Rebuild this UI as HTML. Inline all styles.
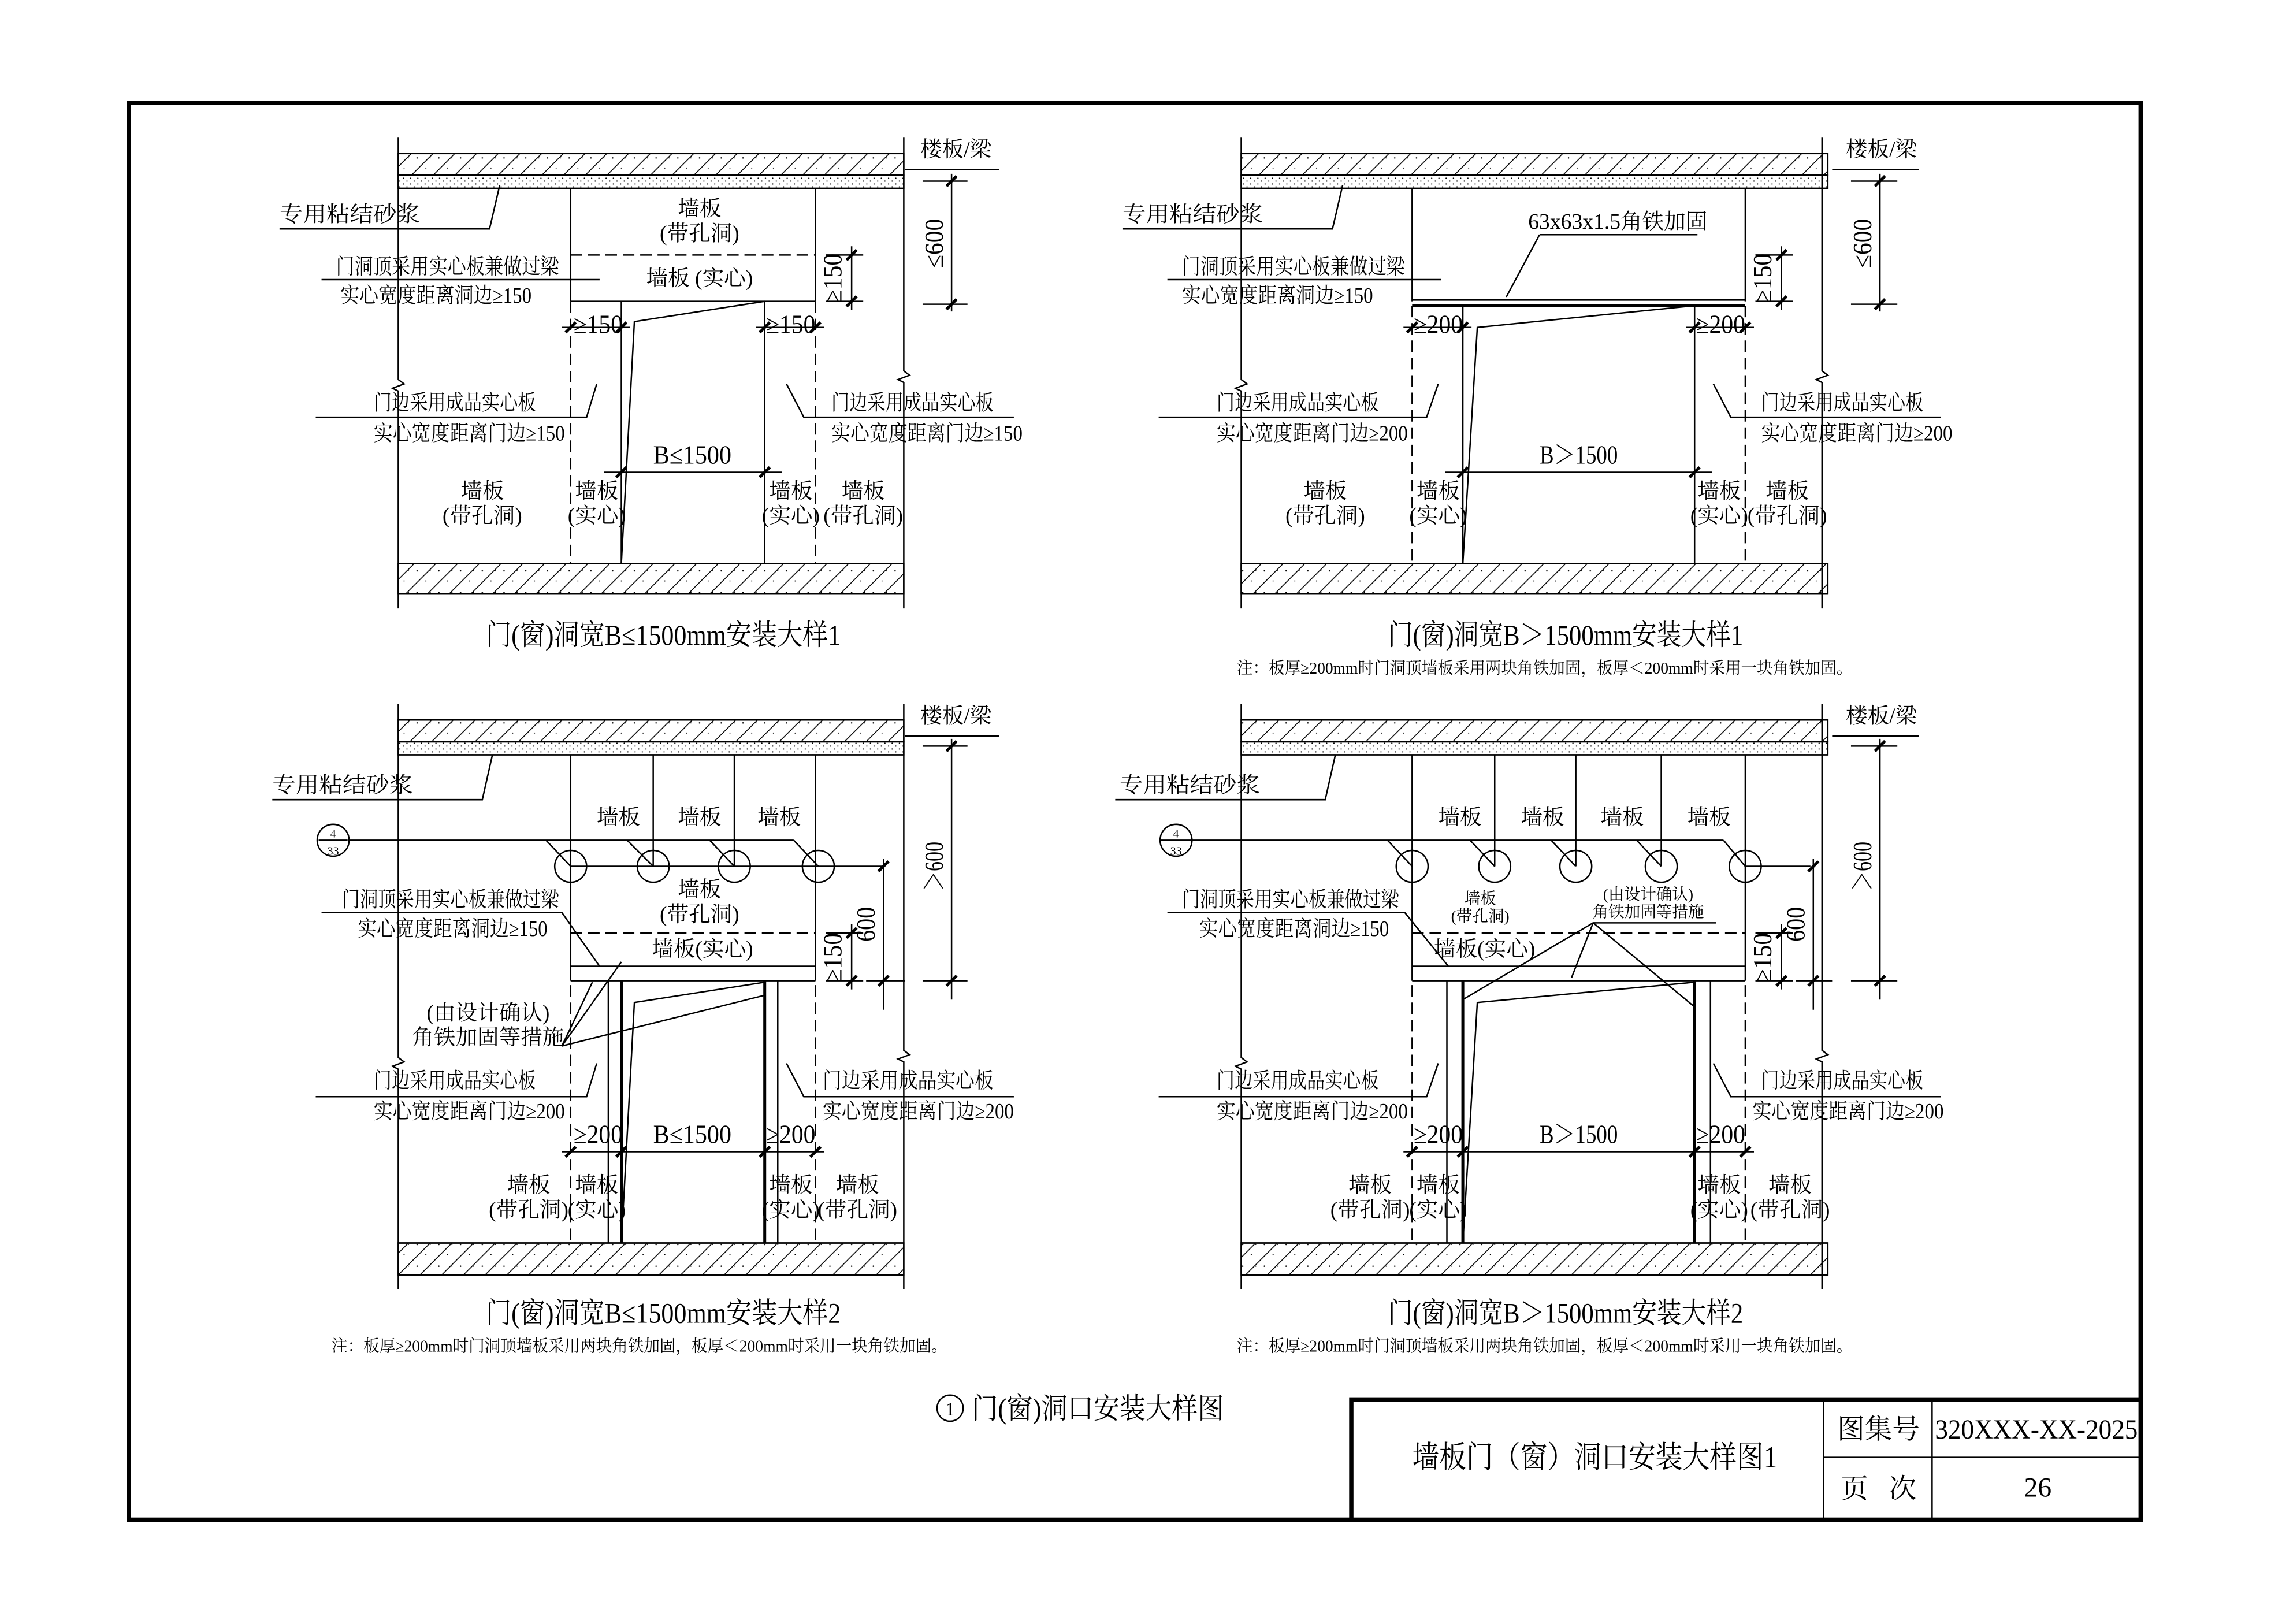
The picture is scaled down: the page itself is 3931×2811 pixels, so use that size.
<!DOCTYPE html>
<html><head><meta charset="utf-8"><style>
html,body{margin:0;padding:0;background:#fff;width:3931px;height:2811px;overflow:hidden}
svg{display:block}
text{font-family:"Liberation Serif","Noto Serif CJK SC","Noto Sans CJK SC",serif;fill:#000}
.t{font-size:15px}
.d{font-size:18px}
.s{font-size:11px}
.n{font-size:11.5px}
.h{font-size:20px}
</style></head><body>
<svg width="3931" height="2811" viewBox="0 0 1568 1121" preserveAspectRatio="none" xmlns="http://www.w3.org/2000/svg">
<defs>
<pattern id="hp" width="15" height="15" patternUnits="userSpaceOnUse">
<path d="M-3 3L3 -3M0 15L15 0M12 18L18 12" stroke="#000" stroke-width="0.6"/>
<circle cx="3" cy="4" r="0.5"/><circle cx="9" cy="11" r="0.4"/><circle cx="12" cy="4" r="0.4"/>
</pattern>
<pattern id="mp" width="5" height="4" patternUnits="userSpaceOnUse">
<circle cx="1" cy="1" r="0.45"/><circle cx="3.5" cy="3" r="0.45"/>
</pattern>
<path id="tk" d="M-3.5 3.5L3.5 -3.5" stroke="#000" stroke-width="2"/>
</defs>
<rect width="1568" height="1121" fill="#fff"/>
<g fill="none" stroke="#000" stroke-width="1">

<rect x="89" y="71" width="1389" height="978" stroke-width="3"/>
<path d="M933 1049V966H1478" stroke-width="3"/>
<path d="M1259 966V1049M1334 966V1049M1259 1006H1478"/>

<!-- TL -->
<rect x="275" y="106" width="349" height="15" fill="url(#hp)"/>
<rect x="275" y="121" width="349" height="9" fill="url(#mp)"/>
<path d="M275 106H624M275 121H624M275 130H624"/>
<rect x="275" y="389" width="349" height="21" fill="url(#hp)"/>
<path d="M275 389H624M275 410H624"/>
<path d="M275 95V262l4 3-8 3 4 2V420M624 95V256l4 3-8 3 4 2V420"/>
<path d="M394 130V208M563 130V208M394 208H563M429 208V389M528 208V389"/>
<path d="M394 208V389M563 208V389" stroke-dasharray="8,4"/>
<path d="M394 176H563" stroke-dasharray="8,4"/>
<path d="M528 208L438 222L429 389"/>
<path d="M193 158H338L345 128"/>
<path d="M222 193H414"/>
<path d="M218 288H405L412 265"/>
<path d="M700 288H555L543 265"/>
<path d="M625 117H690"/>
<path d="M588 170V214M570 176H596M570 208H596"/>
<use href="#tk" x="588" y="176"/><use href="#tk" x="588" y="208"/>
<path d="M657 120V215M637 125H668M637 210H668"/>
<use href="#tk" x="657" y="125"/><use href="#tk" x="657" y="210"/>
<path d="M388 226H435M522 226H569"/>
<use href="#tk" x="394" y="226"/><use href="#tk" x="429" y="226"/><use href="#tk" x="528" y="226"/><use href="#tk" x="563" y="226"/>
<path d="M417 326H540"/>
<use href="#tk" x="429" y="326"/><use href="#tk" x="528" y="326"/>

<!-- TR -->
<rect x="857" y="106" width="405" height="15" fill="url(#hp)"/>
<rect x="857" y="121" width="405" height="9" fill="url(#mp)"/>
<path d="M857 106H1262M857 121H1262M857 130H1262"/>
<rect x="857" y="389" width="405" height="21" fill="url(#hp)"/>
<path d="M857 389H1262M857 410H1262"/>
<path d="M857 95V262l4 3-8 3 4 2V420M1258 95V256l4 3-8 3 4 2V420"/>
<path d="M975 130V208M1205 130V208M1010 211V389M1170 211V389"/>
<path d="M975 207H1205" stroke-width="1.2"/>
<path d="M975 211H1205" stroke-width="2"/>
<path d="M975 211V389M1205 211V389" stroke-dasharray="8,4"/>
<path d="M1170 211L1020 226L1010 389"/>
<path d="M1063 162H1172M1063 162L1040 205"/>
<path d="M775 158H920L927 128"/>
<path d="M806 193H995"/>
<path d="M800 288H985L993 265"/>
<path d="M1340 288H1195L1183 265"/>
<path d="M1265 117H1325"/>
<path d="M1230 170V214M1212 176H1238M1212 208H1238"/>
<use href="#tk" x="1230" y="176"/><use href="#tk" x="1230" y="208"/>
<path d="M1298 120V215M1278 125H1310M1278 210H1310"/>
<use href="#tk" x="1298" y="125"/><use href="#tk" x="1298" y="210"/>
<path d="M969 226H1016M1164 226H1211"/>
<use href="#tk" x="975" y="226"/><use href="#tk" x="1010" y="226"/><use href="#tk" x="1170" y="226"/><use href="#tk" x="1205" y="226"/>
<path d="M998 326H1182"/>
<use href="#tk" x="1010" y="326"/><use href="#tk" x="1170" y="326"/>

<!-- BL -->
<rect x="275" y="497" width="349" height="15" fill="url(#hp)"/>
<rect x="275" y="512" width="349" height="9" fill="url(#mp)"/>
<path d="M275 497H624M275 512H624M275 521H624"/>
<rect x="275" y="858" width="349" height="22" fill="url(#hp)"/>
<path d="M275 858H624M275 880H624"/>
<path d="M275 486V730l4 3-8 3 4 2V890M624 486V725l4 3-8 3 4 2V890"/>
<path d="M394 521V677M563 521V677M451 521V598M507 521V598"/>
<path d="M394 667H563M394 677H563"/>
<path d="M394 680V858M563 680V858" stroke-dasharray="8,4"/>
<path d="M394 644H563" stroke-dasharray="8,4"/>
<path d="M420 677V858M537 677V858"/>
<path d="M429 677V858M528 677V858" stroke-width="2"/>
<path d="M528 678L438 692L429 858"/>
<circle cx="394" cy="598" r="11"/><circle cx="451" cy="598" r="11"/><circle cx="507" cy="598" r="11"/><circle cx="565" cy="598" r="11"/>
<circle cx="230" cy="580" r="11"/><path d="M220 580H240"/>
<path d="M241 580H548M377 580L394 598M433 580L451 598M490 580L507 598M548 580L565 598"/>
<path d="M394 598H610"/>
<path d="M188 552H333L340 521"/>
<path d="M222 630H388L414 667"/>
<path d="M388 722L409 678M388 722L429 664M388 722L528 687"/>
<path d="M218 757H405L412 734"/>
<path d="M700 757H555L543 734"/>
<path d="M625 508H690"/>
<path d="M588 638V683M570 644H596M570 677H596"/>
<use href="#tk" x="588" y="644"/><use href="#tk" x="588" y="677"/>
<path d="M610 593V697M598 677H625"/>
<use href="#tk" x="610" y="598"/><use href="#tk" x="610" y="677"/>
<path d="M657 510V690M637 515H668M637 677H668"/>
<use href="#tk" x="657" y="515"/><use href="#tk" x="657" y="677"/>
<path d="M388 795H569"/>
<use href="#tk" x="394" y="795"/><use href="#tk" x="429" y="795"/><use href="#tk" x="528" y="795"/><use href="#tk" x="563" y="795"/>

<!-- BR -->
<rect x="857" y="497" width="405" height="15" fill="url(#hp)"/>
<rect x="857" y="512" width="405" height="9" fill="url(#mp)"/>
<path d="M857 497H1262M857 512H1262M857 521H1262"/>
<rect x="857" y="858" width="405" height="22" fill="url(#hp)"/>
<path d="M857 858H1262M857 880H1262"/>
<path d="M857 486V730l4 3-8 3 4 2V890M1258 486V725l4 3-8 3 4 2V890"/>
<path d="M975 521V677M1205 521V677M1032 521V598M1088 521V598M1147 521V598"/>
<path d="M975 667H1205M975 677H1205"/>
<path d="M975 680V858M1205 680V858" stroke-dasharray="8,4"/>
<path d="M975 644H1205" stroke-dasharray="8,4"/>
<path d="M999 677V858M1181 677V858"/>
<path d="M1010 677V858M1170 677V858" stroke-width="2"/>
<path d="M1170 678L1020 692L1010 858"/>
<circle cx="975" cy="598" r="11"/><circle cx="1032" cy="598" r="11"/><circle cx="1088" cy="598" r="11"/><circle cx="1147" cy="598" r="11"/><circle cx="1205" cy="598" r="11"/>
<circle cx="812" cy="580" r="11"/><path d="M801 580H823"/>
<path d="M823 580H1190M958 580L975 598M1015 580L1032 598M1071 580L1088 598M1130 580L1147 598M1190 580L1205 598"/>
<path d="M1205 598H1250"/>
<path d="M770 552H915L922 521"/>
<path d="M806 630H970L1000 667"/>
<path d="M1100 637H1185M1100 637L1010 690M1100 637L1085 675M1100 637L1170 695"/>
<path d="M800 757H985L993 734"/>
<path d="M1340 757H1195L1183 734"/>
<path d="M1265 508H1325"/>
<path d="M1230 638V683M1212 644H1238M1212 677H1238"/>
<use href="#tk" x="1230" y="644"/><use href="#tk" x="1230" y="677"/>
<path d="M1252 593V697M1240 677H1265"/>
<use href="#tk" x="1252" y="598"/><use href="#tk" x="1252" y="677"/>
<path d="M1298 510V690M1278 515H1310M1278 677H1310"/>
<use href="#tk" x="1298" y="515"/><use href="#tk" x="1298" y="677"/>
<path d="M969 795H1211"/>
<use href="#tk" x="975" y="795"/><use href="#tk" x="1010" y="795"/><use href="#tk" x="1170" y="795"/><use href="#tk" x="1205" y="795"/>

<circle cx="656" cy="972" r="9"/>
</g>

<g class="t">
<!-- TL -->
<text x="193" y="153" textLength="97" lengthAdjust="spacingAndGlyphs">专用粘结砂浆</text>
<text x="483" y="149" text-anchor="middle">墙板</text>
<text x="483" y="166" text-anchor="middle">(带孔洞)</text>
<text x="483" y="197" text-anchor="middle">墙板 (实心)</text>
<text x="232" y="189" textLength="154" lengthAdjust="spacingAndGlyphs">门洞顶采用实心板兼做过梁</text>
<text x="235" y="209" textLength="132" lengthAdjust="spacingAndGlyphs">实心宽度距离洞边≥150</text>
<text x="258" y="283" textLength="112" lengthAdjust="spacingAndGlyphs">门边采用成品实心板</text>
<text x="258" y="304" textLength="132" lengthAdjust="spacingAndGlyphs">实心宽度距离门边≥150</text>
<text x="574" y="283" textLength="112" lengthAdjust="spacingAndGlyphs">门边采用成品实心板</text>
<text x="574" y="304" textLength="132" lengthAdjust="spacingAndGlyphs">实心宽度距离门边≥150</text>
<text x="333" y="344" text-anchor="middle">墙板</text><text x="333" y="361" text-anchor="middle">(带孔洞)</text>
<text x="412" y="344" text-anchor="middle">墙板</text><text x="412" y="361" text-anchor="middle">(实心)</text>
<text x="546" y="344" text-anchor="middle">墙板</text><text x="546" y="361" text-anchor="middle">(实心)</text>
<text x="596" y="344" text-anchor="middle">墙板</text><text x="596" y="361" text-anchor="middle">(带孔洞)</text>
<text x="660" y="108" text-anchor="middle">楼板/梁</text>

<!-- TR -->
<text x="775" y="153" textLength="97" lengthAdjust="spacingAndGlyphs">专用粘结砂浆</text>
<text x="1117" y="158" text-anchor="middle">63x63x1.5角铁加固</text>
<text x="816" y="189" textLength="154" lengthAdjust="spacingAndGlyphs">门洞顶采用实心板兼做过梁</text>
<text x="816" y="209" textLength="132" lengthAdjust="spacingAndGlyphs">实心宽度距离洞边≥150</text>
<text x="840" y="283" textLength="112" lengthAdjust="spacingAndGlyphs">门边采用成品实心板</text>
<text x="840" y="304" textLength="132" lengthAdjust="spacingAndGlyphs">实心宽度距离门边≥200</text>
<text x="1216" y="283" textLength="112" lengthAdjust="spacingAndGlyphs">门边采用成品实心板</text>
<text x="1216" y="304" textLength="132" lengthAdjust="spacingAndGlyphs">实心宽度距离门边≥200</text>
<text x="915" y="344" text-anchor="middle">墙板</text><text x="915" y="361" text-anchor="middle">(带孔洞)</text>
<text x="993" y="344" text-anchor="middle">墙板</text><text x="993" y="361" text-anchor="middle">(实心)</text>
<text x="1187" y="344" text-anchor="middle">墙板</text><text x="1187" y="361" text-anchor="middle">(实心)</text>
<text x="1234" y="344" text-anchor="middle">墙板</text><text x="1234" y="361" text-anchor="middle">(带孔洞)</text>
<text x="1299" y="108" text-anchor="middle">楼板/梁</text>

<!-- BL -->
<text x="188" y="547" textLength="97" lengthAdjust="spacingAndGlyphs">专用粘结砂浆</text>
<text x="427" y="569" text-anchor="middle">墙板</text>
<text x="483" y="569" text-anchor="middle">墙板</text>
<text x="538" y="569" text-anchor="middle">墙板</text>
<text x="483" y="619" text-anchor="middle">墙板</text>
<text x="483" y="636" text-anchor="middle">(带孔洞)</text>
<text x="485" y="660" text-anchor="middle">墙板(实心)</text>
<text x="236" y="626" textLength="150" lengthAdjust="spacingAndGlyphs">门洞顶采用实心板兼做过梁</text>
<text x="247" y="646" textLength="131" lengthAdjust="spacingAndGlyphs">实心宽度距离洞边≥150</text>
<text x="337" y="704" text-anchor="middle">(由设计确认)</text>
<text x="337" y="721" text-anchor="middle">角铁加固等措施</text>
<text x="258" y="751" textLength="112" lengthAdjust="spacingAndGlyphs">门边采用成品实心板</text>
<text x="258" y="772" textLength="132" lengthAdjust="spacingAndGlyphs">实心宽度距离门边≥200</text>
<text x="568" y="751" textLength="118" lengthAdjust="spacingAndGlyphs">门边采用成品实心板</text>
<text x="568" y="772" textLength="132" lengthAdjust="spacingAndGlyphs">实心宽度距离门边≥200</text>
<text x="365" y="823" text-anchor="middle">墙板</text><text x="365" y="840" text-anchor="middle">(带孔洞)</text>
<text x="412" y="823" text-anchor="middle">墙板</text><text x="412" y="840" text-anchor="middle">(实心)</text>
<text x="546" y="823" text-anchor="middle">墙板</text><text x="546" y="840" text-anchor="middle">(实心)</text>
<text x="592" y="823" text-anchor="middle">墙板</text><text x="592" y="840" text-anchor="middle">(带孔洞)</text>
<text x="660" y="499" text-anchor="middle">楼板/梁</text>

<!-- BR -->
<text x="773" y="547" textLength="97" lengthAdjust="spacingAndGlyphs">专用粘结砂浆</text>
<text x="1008" y="569" text-anchor="middle">墙板</text>
<text x="1065" y="569" text-anchor="middle">墙板</text>
<text x="1120" y="569" text-anchor="middle">墙板</text>
<text x="1180" y="569" text-anchor="middle">墙板</text>
<text x="1025" y="660" text-anchor="middle">墙板(实心)</text>
<text x="816" y="626" textLength="150" lengthAdjust="spacingAndGlyphs">门洞顶采用实心板兼做过梁</text>
<text x="828" y="646" textLength="131" lengthAdjust="spacingAndGlyphs">实心宽度距离洞边≥150</text>
<text x="840" y="751" textLength="112" lengthAdjust="spacingAndGlyphs">门边采用成品实心板</text>
<text x="840" y="772" textLength="132" lengthAdjust="spacingAndGlyphs">实心宽度距离门边≥200</text>
<text x="1216" y="751" textLength="112" lengthAdjust="spacingAndGlyphs">门边采用成品实心板</text>
<text x="1210" y="772" textLength="132" lengthAdjust="spacingAndGlyphs">实心宽度距离门边≥200</text>
<text x="946" y="823" text-anchor="middle">墙板</text><text x="946" y="840" text-anchor="middle">(带孔洞)</text>
<text x="993" y="823" text-anchor="middle">墙板</text><text x="993" y="840" text-anchor="middle">(实心)</text>
<text x="1187" y="823" text-anchor="middle">墙板</text><text x="1187" y="840" text-anchor="middle">(实心)</text>
<text x="1236" y="823" text-anchor="middle">墙板</text><text x="1236" y="840" text-anchor="middle">(带孔洞)</text>
<text x="1299" y="499" text-anchor="middle">楼板/梁</text>
</g>

<!-- dimension texts (larger, narrow) -->
<g class="d">
<text x="413" y="230" text-anchor="middle" textLength="34" lengthAdjust="spacingAndGlyphs">≥150</text>
<text x="546" y="230" text-anchor="middle" textLength="34" lengthAdjust="spacingAndGlyphs">≥150</text>
<text x="478" y="320" text-anchor="middle" textLength="54" lengthAdjust="spacingAndGlyphs">B≤1500</text>
<text transform="translate(581,192) rotate(-90)" text-anchor="middle" textLength="34" lengthAdjust="spacingAndGlyphs">≥150</text>
<text transform="translate(651,168) rotate(-90)" text-anchor="middle" textLength="34" lengthAdjust="spacingAndGlyphs">≤600</text>

<text x="993" y="230" text-anchor="middle" textLength="34" lengthAdjust="spacingAndGlyphs">≥200</text>
<text x="1188" y="230" text-anchor="middle" textLength="34" lengthAdjust="spacingAndGlyphs">≥200</text>
<text x="1090" y="320" text-anchor="middle" textLength="54" lengthAdjust="spacingAndGlyphs">B＞1500</text>
<text transform="translate(1223,192) rotate(-90)" text-anchor="middle" textLength="34" lengthAdjust="spacingAndGlyphs">≥150</text>
<text transform="translate(1292,168) rotate(-90)" text-anchor="middle" textLength="34" lengthAdjust="spacingAndGlyphs">≤600</text>

<text x="413" y="789" text-anchor="middle" textLength="34" lengthAdjust="spacingAndGlyphs">≥200</text>
<text x="546" y="789" text-anchor="middle" textLength="34" lengthAdjust="spacingAndGlyphs">≥200</text>
<text x="478" y="789" text-anchor="middle" textLength="54" lengthAdjust="spacingAndGlyphs">B≤1500</text>
<text transform="translate(581,661) rotate(-90)" text-anchor="middle" textLength="34" lengthAdjust="spacingAndGlyphs">≥150</text>
<text transform="translate(604,638) rotate(-90)" text-anchor="middle" textLength="24" lengthAdjust="spacingAndGlyphs">600</text>
<text transform="translate(651,598) rotate(-90)" text-anchor="middle" textLength="34" lengthAdjust="spacingAndGlyphs">＞600</text>

<text x="993" y="789" text-anchor="middle" textLength="34" lengthAdjust="spacingAndGlyphs">≥200</text>
<text x="1188" y="789" text-anchor="middle" textLength="34" lengthAdjust="spacingAndGlyphs">≥200</text>
<text x="1090" y="789" text-anchor="middle" textLength="54" lengthAdjust="spacingAndGlyphs">B＞1500</text>
<text transform="translate(1223,661) rotate(-90)" text-anchor="middle" textLength="34" lengthAdjust="spacingAndGlyphs">≥150</text>
<text transform="translate(1246,638) rotate(-90)" text-anchor="middle" textLength="24" lengthAdjust="spacingAndGlyphs">600</text>
<text transform="translate(1292,598) rotate(-90)" text-anchor="middle" textLength="34" lengthAdjust="spacingAndGlyphs">＞600</text>
</g>

<g class="s">
<text x="1022" y="624" text-anchor="middle">墙板</text>
<text x="1022" y="636" text-anchor="middle">(带孔洞)</text>
<text x="1138" y="621" text-anchor="middle">(由设计确认)</text>
<text x="1138" y="633" text-anchor="middle">角铁加固等措施</text>
<text x="230" y="578" text-anchor="middle" style="font-size:8px">4</text>
<text x="230" y="590" text-anchor="middle" style="font-size:8px">33</text>
<text x="812" y="578" text-anchor="middle" style="font-size:8px">4</text>
<text x="812" y="590" text-anchor="middle" style="font-size:8px">33</text>
</g>

<g class="h">
<text x="458" y="445" text-anchor="middle" textLength="245" lengthAdjust="spacingAndGlyphs">门(窗)洞宽B≤1500mm安装大样1</text>
<text x="1081" y="445" text-anchor="middle" textLength="245" lengthAdjust="spacingAndGlyphs">门(窗)洞宽B＞1500mm安装大样1</text>
<text x="458" y="913" text-anchor="middle" textLength="245" lengthAdjust="spacingAndGlyphs">门(窗)洞宽B≤1500mm安装大样2</text>
<text x="1081" y="913" text-anchor="middle" textLength="245" lengthAdjust="spacingAndGlyphs">门(窗)洞宽B＞1500mm安装大样2</text>
<text x="671" y="979" textLength="174" lengthAdjust="spacingAndGlyphs">门(窗)洞口安装大样图</text>
</g>
<text x="656" y="977" text-anchor="middle" style="font-size:13px">1</text>
<g class="n">
<text x="854" y="465" textLength="425" lengthAdjust="spacingAndGlyphs">注：板厚≥200mm时门洞顶墙板采用两块角铁加固，板厚＜200mm时采用一块角铁加固。</text>
<text x="229" y="933" textLength="425" lengthAdjust="spacingAndGlyphs">注：板厚≥200mm时门洞顶墙板采用两块角铁加固，板厚＜200mm时采用一块角铁加固。</text>
<text x="854" y="933" textLength="425" lengthAdjust="spacingAndGlyphs">注：板厚≥200mm时门洞顶墙板采用两块角铁加固，板厚＜200mm时采用一块角铁加固。</text>
</g>
<text x="975" y="1013" style="font-size:21px" textLength="252" lengthAdjust="spacingAndGlyphs">墙板门（窗）洞口安装大样图1</text>
<text x="1297" y="993" text-anchor="middle" style="font-size:19px">图集号</text>
<text x="1406" y="993" text-anchor="middle" style="font-size:19px" textLength="140" lengthAdjust="spacingAndGlyphs">320XXX-XX-2025</text>
<text x="1297" y="1034" text-anchor="middle" style="font-size:19px" xml:space="preserve">页   次</text>
<text x="1407" y="1033" text-anchor="middle" style="font-size:19px">26</text>
</svg>
</body></html>
